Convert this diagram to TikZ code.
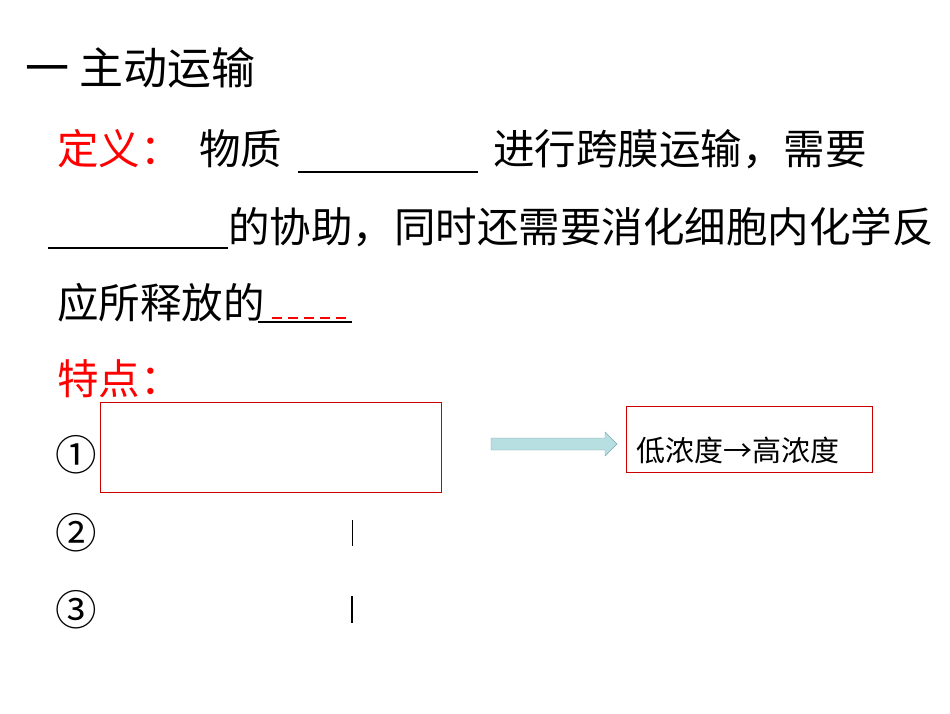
\documentclass[tikz,border=0pt]{standalone}
\usepackage{fontspec}
\setmainfont{Noto Sans CJK SC}
\begin{document}
\begin{tikzpicture}[x=1pt,y=-1pt,
  txt/.style={anchor=base west,inner sep=0pt,font=\fontsize{41.5}{41.5}\selectfont},
  red box/.style={draw=red!80!black,line width=0.8pt}]
\useasboundingbox (0,0) rectangle (950,713);
\node[txt,font=\fontsize{44}{44}\selectfont] (title) at (25,84) {一 主动运输};
\node[txt,text=red] (def) at (57,164) {定义：};
\node[txt] (l1a) at (199,164) {物质};
\draw[line width=2pt] (298,172) -- (478,172);
\node[txt] (l1b) at (493,164) {进行跨膜运输，需要};
\draw[line width=2pt] (48,248) -- (228,248);
\node[txt] (l2) at (228,242) {的协助，同时还需要消化细胞内化学反};
\node[txt] (l3) at (57,318) {应所释放的};
\draw[red,line width=1.5pt,dash pattern=on 10pt off 6pt] (272,318) -- (350,318);
\draw[line width=2pt] (258,322) -- (352,322);
\node[txt,text=red] (tp) at (57,394) {特点：};
\node[txt] (c1) at (55,470) {①};
\node[txt] (c2) at (55,548) {②};
\node[txt] (c3) at (55,625) {③};
\draw[red box] (100,402) rectangle (441,492);
\draw[line width=1pt] (352,520) -- (352,546);
\draw[line width=1.3pt] (352,596) -- (352,623);
\fill[fill={rgb,255:red,183;green,222;blue,224}, draw={rgb,255:red,120;green,170;blue,180}] (491,438) -- (605,438) -- (605,432) -- (617,444) -- (605,456) -- (605,450) -- (491,450) -- cycle;
\node[red box,minimum width=246,minimum height=66,anchor=north west,inner sep=0pt] (b2) at (626,406) {};
\node[anchor=base west,inner sep=0pt,font=\fontsize{29}{29}\selectfont] (b2t) at (636,461) {低浓度→高浓度};
\end{tikzpicture}
\end{document}
